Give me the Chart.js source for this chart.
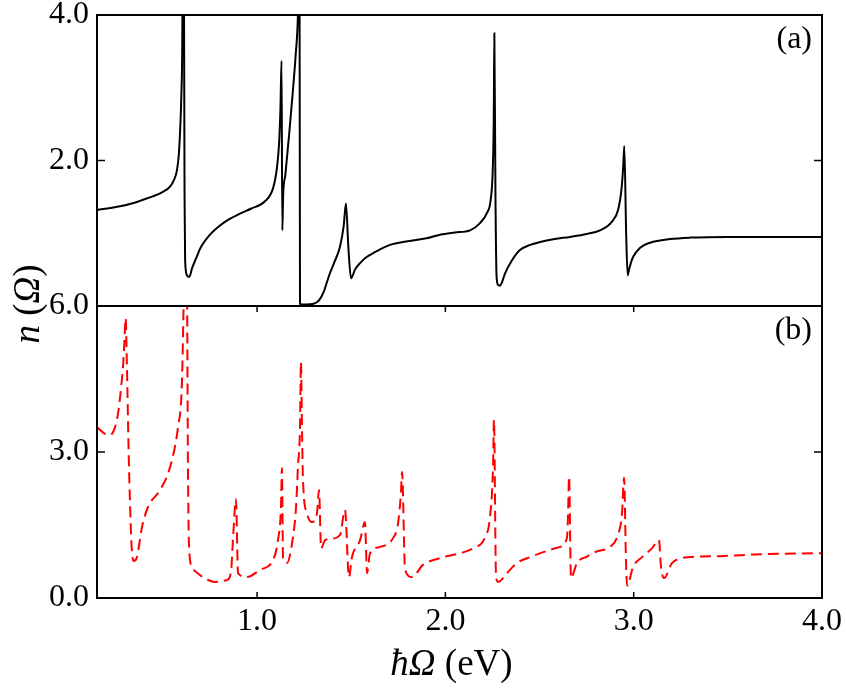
<!DOCTYPE html>
<html><head><meta charset="utf-8">
<script src="https://cdn.jsdelivr.net/npm/chart.js@4.4.0/dist/chart.umd.min.js"></script>
<style>html,body{margin:0;padding:0;background:#fff;}#wrap{position:relative;width:846px;height:688px;background:#fff;}canvas{position:absolute;left:0;top:0;}</style>
</head><body><div id="wrap"><canvas id="c1" width="846" height="688"></canvas><canvas id="c2" width="846" height="688"></canvas></div>
<script>
// ---- data ----
const topX = [0.150,0.250,0.350,0.394,0.450,0.500,0.538,0.560,0.575,0.585,0.592,0.598,0.603,0.608,0.615,0.618,0.628,0.640,0.655,0.680,0.700,0.750,0.800,0.850,0.909,0.970,1.042,1.085,1.106,1.117,1.124,1.130,1.134,1.139,1.150,1.170,1.190,1.205,1.217,1.224,1.225,1.228,1.260,1.300,1.330,1.355,1.370,1.387,1.410,1.440,1.460,1.472,1.485,1.499,1.520,1.547,1.580,1.626,1.706,1.800,1.900,1.972,2.050,2.131,2.184,2.221,2.240,2.252,2.257,2.260,2.266,2.272,2.280,2.290,2.300,2.317,2.354,2.396,2.450,2.503,2.580,2.662,2.750,2.821,2.885,2.917,2.935,2.944,2.950,2.960,2.968,2.975,2.996,3.034,3.087,3.193,3.300,3.500,4.000];
const topY = [1.32,1.36,1.42,1.46,1.51,1.57,1.64,1.74,1.87,2.10,2.45,2.90,3.70,7.00,1.50,0.62,0.42,0.40,0.52,0.68,0.80,0.98,1.10,1.19,1.27,1.34,1.44,1.62,1.91,2.24,2.70,3.37,1.04,1.55,1.80,2.35,2.95,3.45,4.00,5.00,5.50,0.03,0.02,0.03,0.08,0.20,0.32,0.45,0.60,0.81,1.10,1.41,0.80,0.38,0.50,0.59,0.67,0.74,0.84,0.89,0.93,0.98,1.01,1.04,1.14,1.28,1.45,1.90,2.60,3.75,1.50,0.40,0.29,0.28,0.32,0.45,0.63,0.77,0.84,0.88,0.92,0.95,0.99,1.04,1.16,1.32,1.60,1.90,2.20,1.00,0.42,0.50,0.67,0.80,0.87,0.92,0.94,0.95,0.95];

const botX = [0.150,0.190,0.219,0.245,0.262,0.280,0.288,0.296,0.302,0.309,0.318,0.325,0.332,0.338,0.345,0.362,0.389,0.421,0.485,0.538,0.580,0.601,0.612,0.620,0.628,0.633,0.639,0.655,0.697,0.740,0.777,0.840,0.862,0.872,0.888,0.899,0.947,1.016,1.085,1.111,1.127,1.132,1.138,1.159,1.186,1.207,1.217,1.228,1.233,1.239,1.244,1.265,1.292,1.318,1.329,1.340,1.361,1.387,1.440,1.467,1.488,1.504,1.547,1.573,1.584,1.600,1.653,1.722,1.749,1.764,1.770,1.786,1.823,1.881,1.972,2.078,2.147,2.211,2.237,2.253,2.258,2.269,2.280,2.327,2.380,2.450,2.556,2.609,2.646,2.651,2.657,2.667,2.699,2.752,2.800,2.874,2.912,2.938,2.949,2.959,2.965,2.997,3.044,3.097,3.134,3.145,3.161,3.204,3.299,3.459,3.671,4.000];
const botY = [3.51,3.38,3.35,3.50,3.80,4.40,4.75,5.30,5.75,4.75,3.00,2.00,1.20,0.85,0.76,0.84,1.46,1.87,2.22,2.69,3.51,4.42,6.40,7.50,6.40,2.69,1.05,0.64,0.47,0.37,0.33,0.37,0.55,1.20,2.03,0.51,0.43,0.58,0.78,1.19,1.87,2.67,0.82,0.72,1.13,1.87,2.69,3.51,4.85,3.38,2.42,1.74,1.56,1.74,2.22,1.02,1.19,1.21,1.29,1.81,0.43,0.84,1.19,1.56,0.51,0.92,1.05,1.23,1.54,2.16,2.59,0.58,0.43,0.68,0.82,0.92,1.02,1.25,1.67,2.69,3.66,0.43,0.33,0.51,0.72,0.84,0.99,1.05,1.25,1.67,2.49,0.41,0.72,0.85,0.95,1.05,1.25,1.74,2.47,0.78,0.25,0.64,0.84,1.02,1.19,0.64,0.41,0.72,0.84,0.86,0.90,0.92];

const xTicks = [1.0, 2.0, 3.0, 4.0];
const topTicks = [0, 2, 4];
const botTicks = [0, 3, 6];

const SERIF = '"Liberation Serif", "DejaVu Serif", serif';
const FS = 32;
const TFS = 37;

function drawRich(ctx, parts, cx, cy, rotate) {
  ctx.save();
  ctx.translate(cx, cy);
  if (rotate) ctx.rotate(-Math.PI / 2);
  let total = 0;
  parts.forEach(p => { ctx.font = p.f; p.w = ctx.measureText(p.t).width; total += p.w; });
  let x = -total / 2;
  ctx.textBaseline = 'alphabetic'; ctx.textAlign = 'left'; ctx.fillStyle = '#000';
  parts.forEach(p => { ctx.font = p.f; ctx.fillText(p.t, x, 0); x += p.w; });
  ctx.restore();
}

const framePlugin = {
  id: 'frame',
  afterDatasetsDraw(chart, args, o) {
    const {ctx, chartArea: a, scales} = chart;
    ctx.save();
    ctx.strokeStyle = '#000';
    ctx.lineWidth = 1.5;
    const seg = (x1, y1, x2, y2) => { ctx.beginPath(); ctx.moveTo(x1, y1); ctx.lineTo(x2, y2); ctx.stroke(); };
    (o.yTicks || []).forEach(v => {
      const y = scales.y.getPixelForValue(v);
      if (y <= a.top + 1 || y >= a.bottom - 1) return;
      seg(a.left, y, a.left + 8, y);
      seg(a.right, y, a.right - 8, y);
    });
    (o.xTicks || []).forEach(v => {
      const x = scales.x.getPixelForValue(v);
      if (x <= a.left + 1 || x >= a.right - 1) return;
      seg(x, a.bottom, x, a.bottom - 6);
      seg(x, a.top, x, a.top + 6);
    });
    ctx.lineWidth = 2;
    ctx.strokeRect(a.left, a.top, a.right - a.left, a.bottom - a.top);
    ctx.fillStyle = '#000';
    ctx.font = FS + 'px ' + SERIF;
    ctx.textAlign = 'right'; ctx.textBaseline = 'alphabetic';
    if (o.label) ctx.fillText(o.label, a.right - 10, a.top + 33);
    ctx.restore();
    if (o.titles) {
      const R = TFS + 'px ' + SERIF, I = 'italic ' + TFS + 'px ' + SERIF;
      drawRich(ctx, [{t:'ħ', f:I}, {t:'Ω', f:I}, {t:' (eV)', f:R}], (a.left + a.right) / 2 - 8, 675, false);
      drawRich(ctx, [{t:'n', f:I}, {t:' (', f:R}, {t:'Ω', f:I}, {t:')', f:R}], 39, 304, true);
    }
  }
};

const tickFont = {family: SERIF, size: FS, lineHeight: 1};

new Chart(document.getElementById('c1'), {
  type: 'line',
  data: {datasets: [{
    data: topX.map((x, i) => ({x, y: topY[i]})),
    borderColor: '#000', borderWidth: 2, pointRadius: 0, fill: false,
    cubicInterpolationMode: 'monotone'
  }]},
  options: {
    responsive: false, animation: false, devicePixelRatio: 1,
    layout: {padding: {top: 15, right: 24, bottom: 382, left: 0}},
    plugins: {legend: {display: false}, tooltip: {enabled: false}, frame: {yTicks: topTicks, label: '(a)'}},
    scales: {
      x: {type: 'linear', min: 0.15, max: 4, display: false},
      y: {
        type: 'linear', min: 0, max: 4,
        afterBuildTicks: s => { s.ticks = topTicks.map(v => ({value: v})); },
        afterFit: s => { s.width = 97; s.paddingTop = 0; s.paddingBottom = 0; },
        grid: {display: false, drawTicks: false}, border: {display: false},
        ticks: {padding: 8, color: '#000', font: tickFont, callback: v => v === 0 ? '' : v.toFixed(1)}
      }
    }
  },
  plugins: [framePlugin]
});

new Chart(document.getElementById('c2'), {
  type: 'line',
  data: {datasets: [{
    data: botX.map((x, i) => ({x, y: botY[i]})),
    borderColor: '#ff0000', borderWidth: 2, borderDash: [11, 6], pointRadius: 0, fill: false,
    cubicInterpolationMode: 'monotone'
  }]},
  options: {
    responsive: false, animation: false, devicePixelRatio: 1,
    layout: {padding: {top: 306, right: 24, bottom: 0, left: 0}},
    plugins: {legend: {display: false}, tooltip: {enabled: false}, frame: {yTicks: botTicks, xTicks: xTicks, label: '(b)', titles: true}},
    scales: {
      x: {
        type: 'linear', min: 0.15, max: 4,
        afterBuildTicks: s => { s.ticks = xTicks.map(v => ({value: v})); },
        afterFit: s => { s.height = 90; s.paddingLeft = 0; s.paddingRight = 0; },
        grid: {display: false, drawTicks: false}, border: {display: false},
        ticks: {padding: 8, color: '#000', font: tickFont, autoSkip: false, maxRotation: 0, callback: v => v.toFixed(1)}
      },
      y: {
        type: 'linear', min: 0, max: 6,
        afterBuildTicks: s => { s.ticks = botTicks.map(v => ({value: v})); },
        afterFit: s => { s.width = 97; s.paddingTop = 0; s.paddingBottom = 0; },
        grid: {display: false, drawTicks: false}, border: {display: false},
        ticks: {padding: 8, color: '#000', font: tickFont, callback: v => v.toFixed(1)}
      }
    }
  },
  plugins: [framePlugin]
});
</script>
</body></html>
